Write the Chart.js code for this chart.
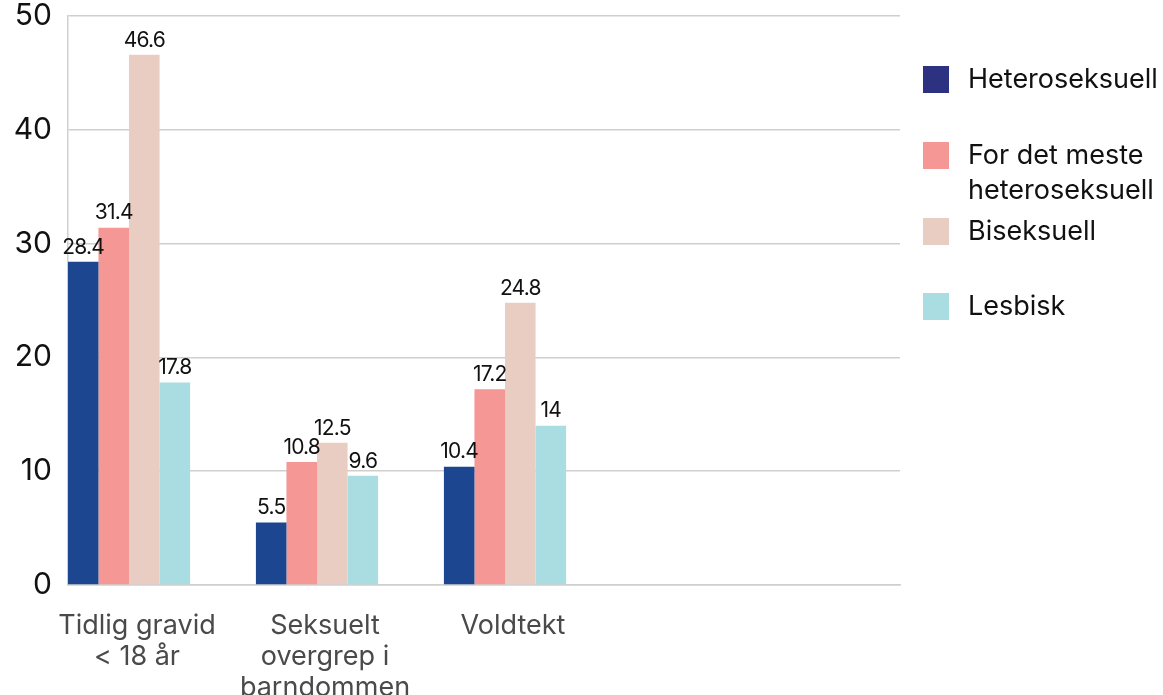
<!DOCTYPE html>
<html>
<head>
<meta charset="utf-8">
<script src="https://cdn.jsdelivr.net/npm/chart.js@4/dist/chart.umd.min.js"></script>
<style>
  html, body { margin: 0; padding: 0; background: #fff; }
  #wrap { width: 1163px; height: 695px; position: relative; }
</style>
</head>
<body>
<div id="wrap"><canvas id="c" width="1163" height="695"></canvas></div>
<script>
// ---- data ----
const categories = [
  ['Tidlig gravid', '< 18 år'],
  ['Seksuelt', 'overgrep i', 'barndommen'],
  ['Voldtekt']
];
const seriesNames = ['Heteroseksuell', 'For det meste heteroseksuell', 'Biseksuell', 'Lesbisk'];
const legendLines = [['Heteroseksuell'], ['For det meste', 'heteroseksuell'], ['Biseksuell'], ['Lesbisk']];
const heteroseksuell = [28.4, 5.5, 10.4];
const forDetMeste = [31.4, 10.8, 17.2];
const biseksuell = [46.6, 12.5, 24.8];
const lesbisk = [17.8, 9.6, 14];
const yTicks = [0, 10, 20, 30, 40, 50];

const barColors = ['#1d4690', '#f59794', '#e9cdc2', '#a9dde1'];
const legendColors = ['#2d3182', '#f59794', '#e9cdc2', '#a9dde1'];
const seriesValues = [heteroseksuell, forDetMeste, biseksuell, lesbisk];

const FONT = 'Inter, "Noto Sans", sans-serif';

const datasets = seriesValues.map((vals, s) => ({
  label: seriesNames[s],
  data: vals.map((v, i) => ({ x: i, y: v })),
  backgroundColor: barColors[s],
  borderWidth: 0,
  categoryPercentage: 0.65,
  barPercentage: 1.0
}));

const valueLabels = {
  id: 'valueLabels',
  afterDatasetsDraw(chart) {
    const ctx = chart.ctx;
    ctx.save();
    ctx.font = '21px ' + FONT;
    ctx.fillStyle = '#111';
    ctx.textAlign = 'center';
    ctx.textBaseline = 'bottom';
    try { ctx.letterSpacing = '-0.8px'; } catch (e) {}
    chart.data.datasets.forEach((ds, di) => {
      const meta = chart.getDatasetMeta(di);
      meta.data.forEach((el, i) => {
        ctx.fillText(String(ds.data[i].y), el.x, el.y - 4);
      });
    });
    ctx.restore();
  }
};

const sideLegend = {
  id: 'sideLegend',
  afterDraw(chart) {
    const ctx = chart.ctx;
    const x0 = chart.chartArea.right + 23;
    const centers = [79, 155, 231, 306];
    ctx.save();
    ctx.font = '27px ' + FONT;
    ctx.textAlign = 'left';
    ctx.textBaseline = 'middle';
    legendLines.forEach((lines, i) => {
      const cy = centers[i];
      ctx.fillStyle = legendColors[i];
      ctx.fillRect(x0, cy - 13, 26, 27);
      ctx.fillStyle = '#111';
      lines.forEach((t, k) => ctx.fillText(t, x0 + 45, cy + 1 + k * 35));
    });
    ctx.restore();
  }
};

new Chart(document.getElementById('c'), {
  type: 'bar',
  data: { datasets },
  options: {
    responsive: false,
    animation: false,
    layout: { padding: { left: 0, right: 263, top: 16, bottom: 0 } },
    plugins: {
      legend: { display: false },
      tooltip: { enabled: false }
    },
    scales: {
      x: {
        type: 'linear',
        min: -0.3245,
        max: 4.101,
        offset: false,
        grid: { display: false, drawTicks: false },
        border: { display: true, color: '#cfcfcf', width: 1.5 },
        afterBuildTicks: (scale) => { scale.ticks = categories.map((c, i) => ({ value: i })); },
        afterFit: (scale) => { scale.height = 110; scale.paddingLeft = 0; scale.paddingRight = 0; },
        ticks: {
          autoSkip: false,
          maxRotation: 0,
          minRotation: 0,
          padding: 25,
          labelOffset: 8,
          color: '#4a4a4a',
          font: { family: FONT, size: 27, lineHeight: 1.15 },
          callback: (v) => categories[Math.round(v)] || ''
        }
      },
      y: {
        min: 0,
        max: 50,
        afterBuildTicks: (scale) => { scale.ticks = yTicks.map(v => ({ value: v })); },
        afterFit: (scale) => { scale.width = 68; scale.paddingTop = 0; scale.paddingBottom = 0; },
        grid: { color: '#cfcfcf', lineWidth: 1.5, drawTicks: false },
        border: { display: true, color: '#cfcfcf', width: 1.5 },
        ticks: {
          padding: 16,
          color: '#111',
          font: { family: FONT, size: 30, lineHeight: 1.0 }
        }
      }
    }
  },
  plugins: [valueLabels, sideLegend]
});
</script>
</body>
</html>
